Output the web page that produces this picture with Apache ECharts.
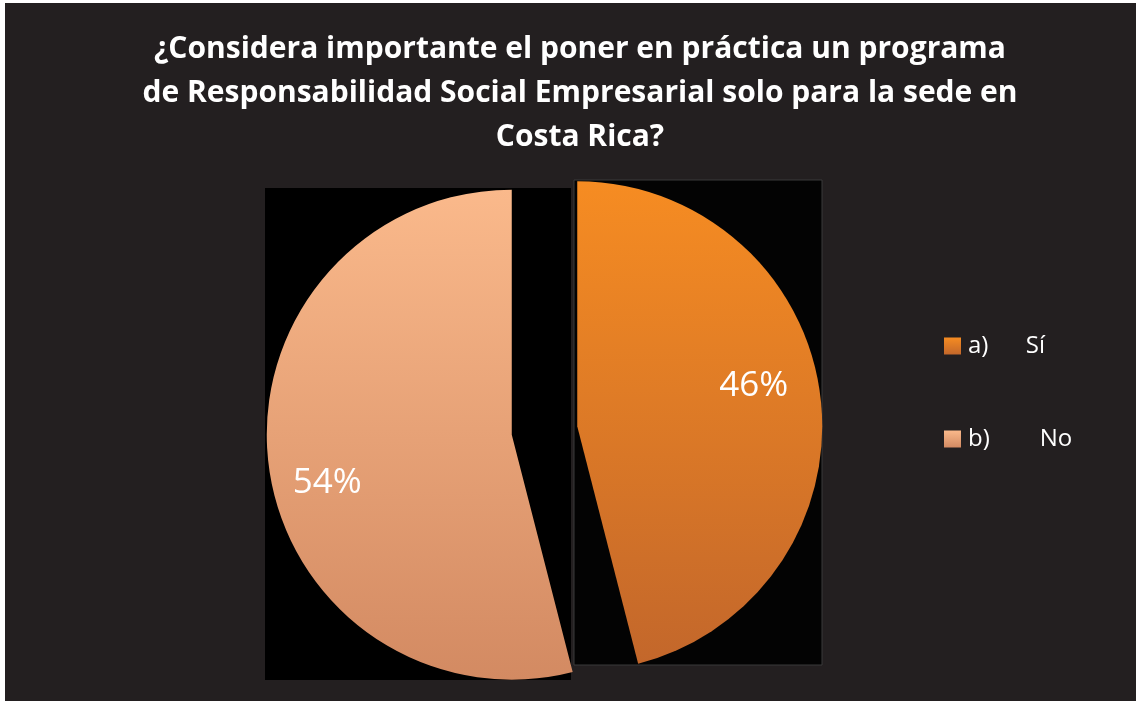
<!DOCTYPE html>
<html>
<head>
<meta charset="utf-8">
<script src="https://cdn.jsdelivr.net/npm/echarts@6/dist/echarts.min.js"></script>
<style>
html,body{margin:0;padding:0;background:#ffffff;}
#chart{width:1136px;height:701px;}
</style>
</head>
<body>
<div id="chart"></div>
<script>
const titleText = '¿Considera importante el poner en práctica un programa\nde Responsabilidad Social Empresarial solo para la sede en\nCosta Rica?';
const categories = ['a)      Sí', 'b)        No'];
const values = [46, 54];

const sliceColors = [
  { top: '#f68c22', bottom: '#c3672b' },
  { top: '#fab98b', bottom: '#d38a62' }
];
const labelShift = [[52, -25], [-60, 33]];

function grad(c) {
  return {
    type: 'linear', x: 0, y: 0, x2: 0, y2: 1,
    colorStops: [{ offset: 0, color: c.top }, { offset: 1, color: c.bottom }]
  };
}

const chart = echarts.init(document.getElementById('chart'), null, { renderer: 'canvas' });
chart.setOption({
  backgroundColor: '#231f20',
  animation: false,
  title: {
    text: titleText,
    left: 575,
    textAlign: 'center',
    top: 22,
    textStyle: {
      color: '#ffffff',
      fontFamily: 'Open Sans',
      fontWeight: 'bold',
      fontSize: 30,
      lineHeight: 44
    }
  },
  legend: {
    orient: 'vertical',
    left: 939,
    top: 329,
    itemGap: 69,
    itemWidth: 17,
    itemHeight: 17,
    icon: 'rect',
    selectedMode: false,
    textStyle: { color: '#ffffff', fontFamily: 'Open Sans', fontSize: 24, padding: [0, 0, 0, 2] },
    data: categories
  },
  graphic: [
    { type: 'rect', z: -10, shape: { x: 0, y: 0, width: 1136, height: 3 }, style: { fill: '#ffffff' } },
    { type: 'rect', z: -10, shape: { x: 0, y: 0, width: 5, height: 701 }, style: { fill: '#ffffff' } },
    { type: 'rect', z: -10, shape: { x: 265, y: 188, width: 306, height: 492 }, style: { fill: '#000000' } },
    { type: 'rect', z: -10, shape: { x: 574, y: 180, width: 248, height: 485 }, style: { fill: '#030303', stroke: '#3a3a3a', lineWidth: 1 } }
  ],
  series: [{
    type: 'pie',
    center: [544.5, 430.5],
    radius: 245,
    startAngle: 90,
    clockwise: true,
    selectedMode: 'multiple',
    selectedOffset: 33,
    emphasis: { disabled: true },
    label: {
      show: true,
      position: 'inside',
      formatter: '{c}%',
      color: '#ffffff',
      fontFamily: 'Open Sans',
      fontSize: 35
    },
    labelLine: { show: false },
    labelLayout: function (params) {
      const s = labelShift[params.dataIndex];
      return { dx: s[0], dy: s[1] };
    },
    data: categories.map((name, i) => ({
      name: name,
      value: values[i],
      selected: true,
      itemStyle: { color: grad(sliceColors[i]) }
    }))
  }]
});
</script>
</body>
</html>
